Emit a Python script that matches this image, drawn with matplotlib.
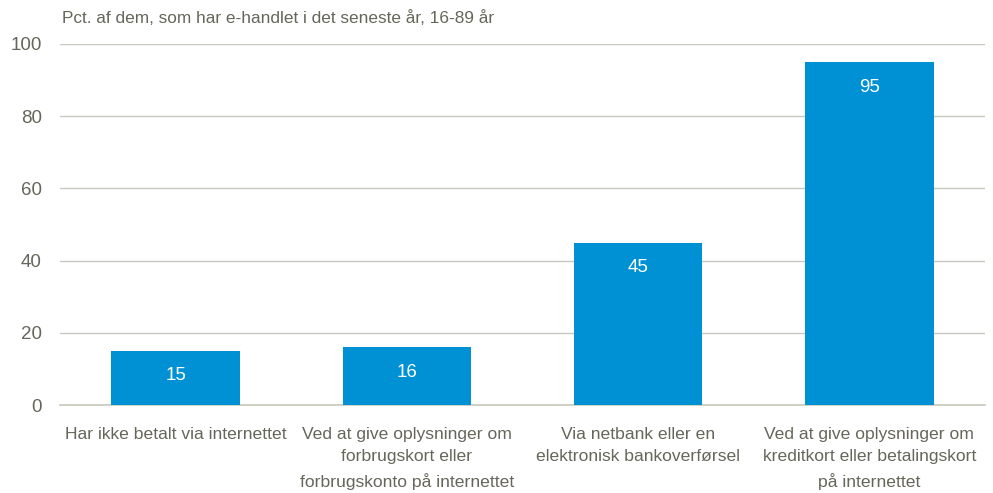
import matplotlib
matplotlib.use("Agg")
import matplotlib.pyplot as plt

plt.rcParams["font.family"] = ["Liberation Sans", "DejaVu Sans"]

categories = [
    "Har ikke betalt via internettet",
    "Ved at give oplysninger om\nforbrugskort eller\nforbrugskonto på internettet",
    "Via netbank eller en\nelektronisk bankoverførsel",
    "Ved at give oplysninger om\nkreditkort eller betalingskort\npå internettet",
]
values = [15, 16, 45, 95]
yticks = [0, 20, 40, 60, 80, 100]
title = "Pct. af dem, som har e-handlet i det seneste år, 16-89 år"

bar_color = "#0091D5"
text_color = "#66665A"
grid_color = "#C8C8BE"

fig = plt.figure(figsize=(9.93, 4.93), dpi=100)
ax = fig.add_axes([60 / 993, 1 - 405 / 493, 925 / 993, 361 / 493])

x = list(range(len(categories)))
bars = ax.bar(x, values, width=0.555, color=bar_color, zorder=3)

# value labels sit just inside the top of each bar
for b, v in zip(bars, values):
    ax.annotate(str(v), (b.get_x() + b.get_width() / 2, v),
                xytext=(0, -18), textcoords="offset points",
                ha="center", va="center", color="white", fontsize=13.5)

ax.set_xlim(-0.5, 3.5)
ax.set_ylim(0, 100)
ax.set_yticks(yticks)
ax.set_xticks(x)
ax.set_xticklabels(categories, fontsize=12.6, color=text_color, linespacing=1.6)
ax.tick_params(axis="y", length=0, pad=13, labelsize=13.5, labelcolor=text_color)
ax.tick_params(axis="x", length=0, pad=16)
ax.grid(axis="y", color=grid_color, linewidth=1, zorder=0)

for side in ["left", "right", "top"]:
    ax.spines[side].set_visible(False)
ax.spines["bottom"].set_color(grid_color)
ax.spines["bottom"].set_linewidth(1.2)

fig.text(62 / 993, 1 - 18 / 493, title, fontsize=12.4, color=text_color, va="center", ha="left")

fig.savefig("out.png", dpi=100)
